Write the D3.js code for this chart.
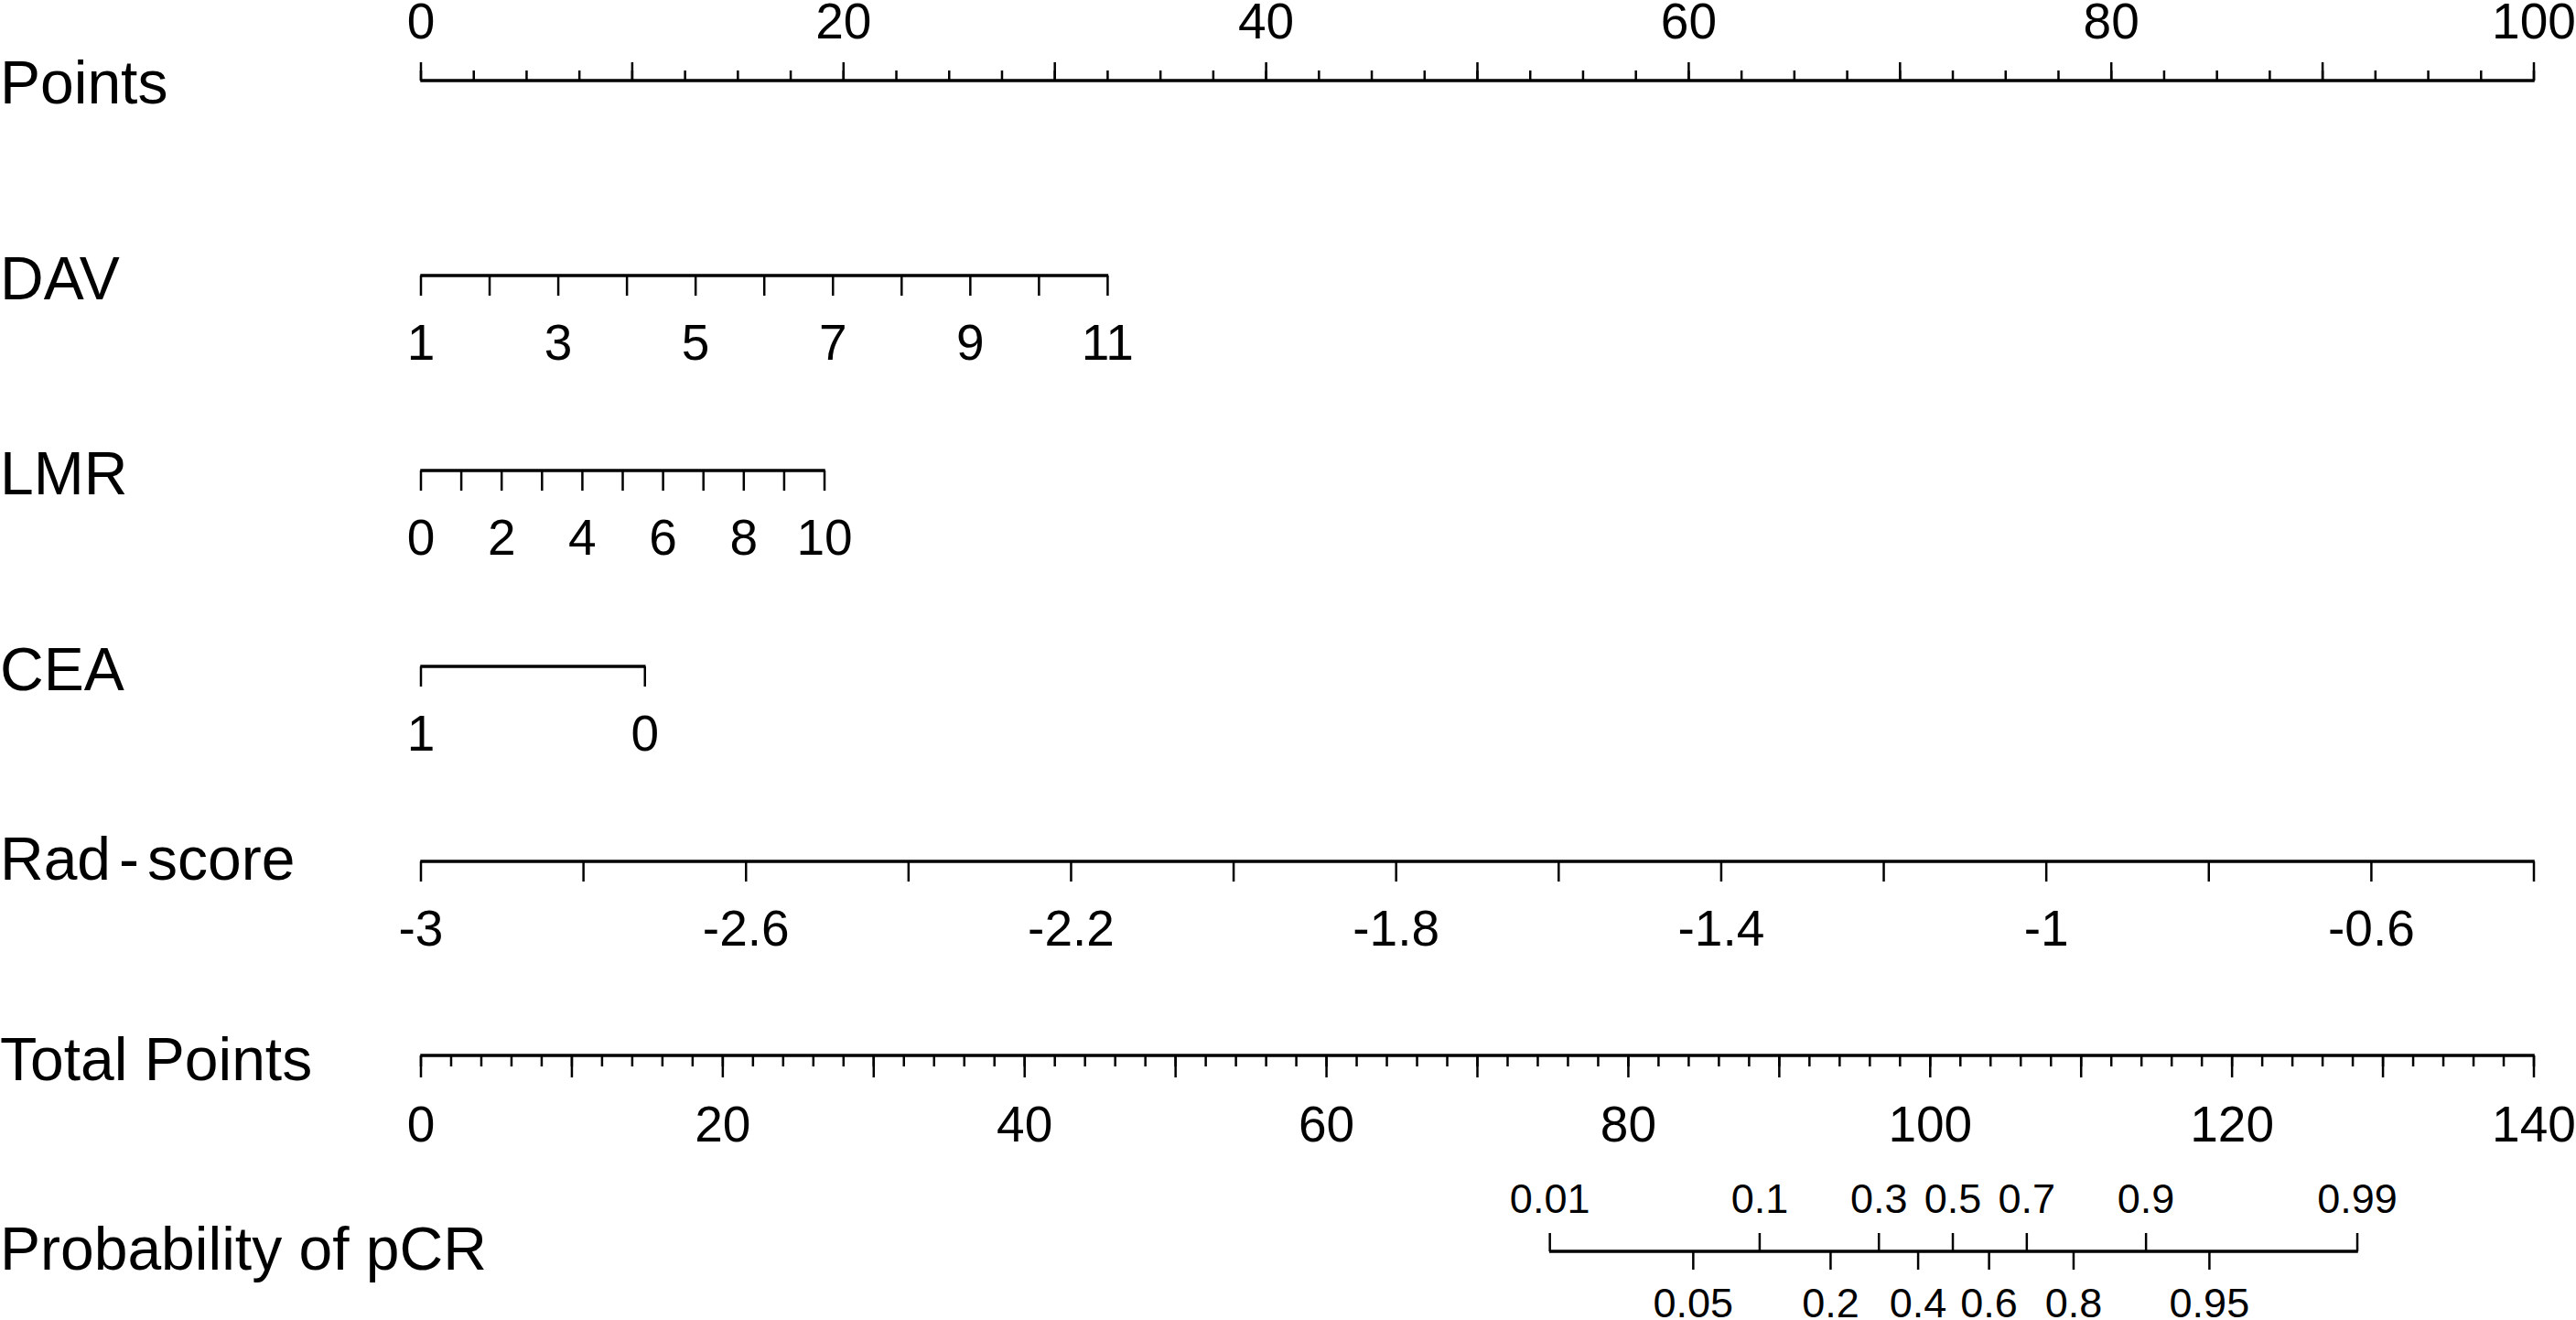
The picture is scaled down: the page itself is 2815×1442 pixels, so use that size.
<!DOCTYPE html>
<html>
<head>
<meta charset="utf-8">
<script src="https://cdn.jsdelivr.net/npm/d3@7"></script>
<style>
  html, body { margin: 0; padding: 0; background: #fff; }
  svg { display: block; }
  text { font-family: "Liberation Sans", Arial, sans-serif; fill: #000; }
</style>
</head>
<body>
<svg id="chart" width="2815" height="1442"></svg>
<script>
// ---------------- data ----------------
const rowNames = ["Points", "DAV", "LMR", "CEA", "Rad-score", "Total Points", "Probability of pCR"];

const pointsMinorTicks = [0,2.5,5,7.5,10,12.5,15,17.5,20,22.5,25,27.5,30,32.5,35,37.5,40,42.5,45,47.5,50,52.5,55,57.5,60,62.5,65,67.5,70,72.5,75,77.5,80,82.5,85,87.5,90,92.5,95,97.5,100];
const pointsMajorTicks = [0,10,20,30,40,50,60,70,80,90,100];
const pointsLabels = [0,20,40,60,80,100];

const davTicks = [1,2,3,4,5,6,7,8,9,10,11];
const davLabels = [1,3,5,7,9,11];
const davEnds = [1, 11];
const davEndPoints = [0, 32.5];

const lmrTicks = [0,1,2,3,4,5,6,7,8,9,10];
const lmrLabels = [0,2,4,6,8,10];
const lmrEnds = [0, 10];
const lmrEndPoints = [0, 19.1];

const ceaTicks = [1, 0];
const ceaLabels = [1, 0];
const ceaEnds = [1, 0];
const ceaEndPoints = [0, 10.6];

const radTicks = [-3,-2.8,-2.6,-2.4,-2.2,-2,-1.8,-1.6,-1.4,-1.2,-1,-0.8,-0.6,-0.4];
const radLabels = [-3,-2.6,-2.2,-1.8,-1.4,-1,-0.6];
const radEnds = [-3, -0.4];
const radEndPoints = [0, 100];

const totalMinorTicks = [0,2,4,6,8,10,12,14,16,18,20,22,24,26,28,30,32,34,36,38,40,42,44,46,48,50,52,54,56,58,60,62,64,66,68,70,72,74,76,78,80,82,84,86,88,90,92,94,96,98,100,102,104,106,108,110,112,114,116,118,120,122,124,126,128,130,132,134,136,138,140];
const totalMajorTicks = [0,10,20,30,40,50,60,70,80,90,100,110,120,130,140];
const totalLabels = [0,20,40,60,80,100,120,140];

const probValues      = [0.01, 0.05, 0.1, 0.2, 0.3, 0.4, 0.5, 0.6, 0.7, 0.8, 0.9, 0.95, 0.99];
const probTotalPoints = [74.8, 84.3, 88.7, 93.4, 96.6, 99.2, 101.5, 103.9, 106.4, 109.5, 114.3, 118.5, 128.3];
const probUpper = [0.01, 0.1, 0.3, 0.5, 0.7, 0.9, 0.99];
const probLower = [0.05, 0.2, 0.4, 0.6, 0.8, 0.95];

// ---------------- layout ----------------
const X0 = 460, X1 = 2769;
const LINE_W = 3.5, TICK_W = 2.5;
const NAME_FS = 66, TICK_FS = 55, PROB_FS = 45;

const svg = d3.select("#chart");
svg.append("rect").attr("width", 2815).attr("height", 1442).attr("fill", "#fff");

const ptsScale = d3.scaleLinear().domain([0, 100]).range([X0, X1]);
const totScale = d3.scaleLinear().domain([0, 140]).range([X0, X1]);

const fmt = d => String(d);

function rowName(name, baseline) {
  const t = svg.append("text").attr("x", 0).attr("y", baseline)
    .attr("font-size", NAME_FS);
  if (name === "Rad-score") {
    t.append("tspan").text("Rad");
    t.append("tspan").attr("dx", 9).text("-");
    t.append("tspan").attr("dx", 9).text("score");
  } else {
    t.text(name);
  }
}

function hline(xa, xb, y) {
  svg.append("line").attr("x1", Math.min(xa, xb) - LINE_W / 2 + 1).attr("x2", Math.max(xa, xb) + LINE_W / 2 - 1)
    .attr("y1", y).attr("y2", y)
    .attr("stroke", "#000").attr("stroke-width", LINE_W);
}

function ticks(vals, sc, y, len) {
  svg.append("g").selectAll("line").data(vals).join("line")
    .attr("x1", d => sc(d)).attr("x2", d => sc(d))
    .attr("y1", y).attr("y2", y + len)
    .attr("stroke", "#000").attr("stroke-width", TICK_W);
}

function labels(vals, sc, baseline, fs, fmtFn) {
  svg.append("g").selectAll("text").data(vals).join("text")
    .attr("x", d => sc(d)).attr("y", baseline)
    .attr("text-anchor", "middle").attr("font-size", fs)
    .text(fmtFn || fmt);
}

// Points
rowName(rowNames[0], 113);
hline(ptsScale(0), ptsScale(100), 88);
ticks(pointsMinorTicks, ptsScale, 88, -11);
ticks(pointsMajorTicks, ptsScale, 88, -20);
labels(pointsLabels, ptsScale, 42, TICK_FS);

// variable rows
function variableRow(name, nameBase, lineY, tickVals, labelVals, ends, endPts) {
  rowName(name, nameBase);
  const sc = d3.scaleLinear().domain(ends).range(endPts.map(ptsScale));
  hline(sc(ends[0]), sc(ends[1]), lineY);
  ticks(tickVals, sc, lineY, 22);
  labels(labelVals, sc, lineY + 92, TICK_FS);
}
variableRow(rowNames[1], 327, 301, davTicks, davLabels, davEnds, davEndPoints);
variableRow(rowNames[2], 540, 514, lmrTicks, lmrLabels, lmrEnds, lmrEndPoints);
variableRow(rowNames[3], 754, 728, ceaTicks, ceaLabels, ceaEnds, ceaEndPoints);
variableRow(rowNames[4], 961, 941, radTicks, radLabels, radEnds, radEndPoints);

// Total points
rowName(rowNames[5], 1180);
hline(totScale(0), totScale(140), 1153);
ticks(totalMinorTicks, totScale, 1153, 12);
ticks(totalMajorTicks, totScale, 1153, 24);
labels(totalLabels, totScale, 1247, TICK_FS);

// Probability
rowName(rowNames[6], 1387);
const probScale = d3.scaleOrdinal().domain(probValues).range(probTotalPoints.map(totScale));
hline(probScale(probValues[0]), probScale(probValues[probValues.length - 1]), 1367);
ticks(probUpper, probScale, 1367, -20);
ticks(probLower, probScale, 1367, 20);
labels(probUpper, probScale, 1325, PROB_FS);
labels(probLower, probScale, 1439, PROB_FS);
</script>
</body>
</html>
